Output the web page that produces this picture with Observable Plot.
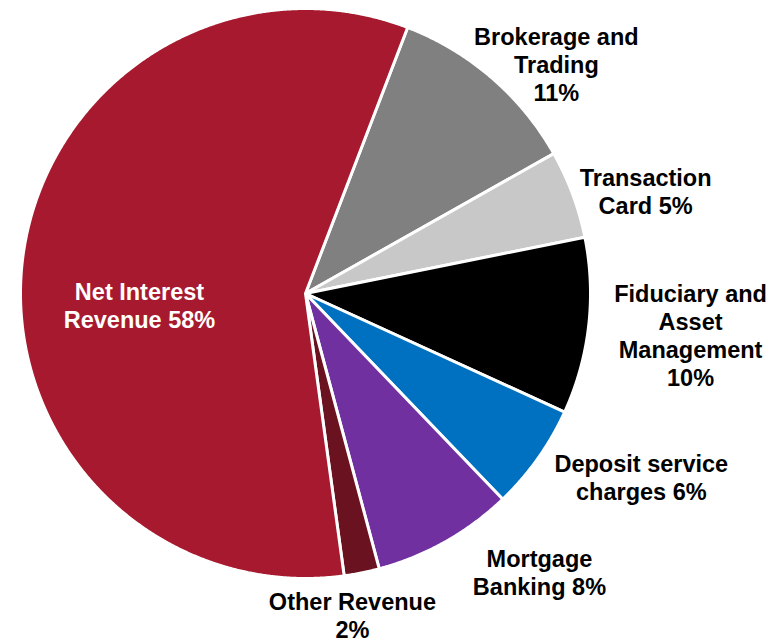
<!DOCTYPE html>
<html>
<head>
<meta charset="utf-8">
<script src="https://cdn.jsdelivr.net/npm/d3@7"></script>
<script src="https://cdn.jsdelivr.net/npm/@observablehq/plot@0.6"></script>
<style>
  html, body { margin: 0; padding: 0; background: #fff; }
  #chart { width: 784px; height: 643px; }
</style>
</head>
<body>
<div id="chart"></div>
<script>
// ---- data ----
const categories = ["Brokerage and Trading", "Transaction Card", "Fiduciary and Asset Management", "Deposit service charges", "Mortgage Banking", "Other Revenue", "Net Interest Revenue"];
const values = [11, 5, 10, 6, 8, 2, 58];
const labels = ["Brokerage and\nTrading\n11%", "Transaction\nCard 5%", "Fiduciary and\nAsset\nManagement\n10%", "Deposit service\ncharges 6%", "Mortgage\nBanking 8%", "Other Revenue\n2%", "Net Interest\nRevenue 58%"];

// ---- style ----
const colors = ["#808080", "#C8C8C8", "#000000", "#0070C0", "#7030A0", "#6A1220", "#A6192E"];
const startAngleDeg = 21;
const labelAngleDeg = [47.6, 73.3, 96.2, 118.6, 140.0, 171.7, 265.9];
const labelRadius = [1.192, 1.246, 1.359, 1.342, 1.277, 1.141, 0.584];
const insideLabel = [false, false, false, false, false, false, true];

// ---- build slices ----
const total = d3.sum(values);
const rad = Math.PI / 180;
const pts = [];
let acc = startAngleDeg;
categories.forEach((name, i) => {
  const span = values[i] / total * 360;
  const a0 = acc, a1 = acc + span;
  pts.push({name, x: 0, y: 0});
  const n = Math.max(2, Math.ceil(span / 0.25));
  for (let k = 0; k <= n; k++) {
    const a = (a0 + (a1 - a0) * k / n) * rad;
    pts.push({name, x: Math.sin(a), y: Math.cos(a)});
  }
  acc = a1;
});

const labelData = categories.map((name, i) => ({
  name,
  text: labels[i],
  inside: insideLabel[i],
  x: labelRadius[i] * Math.sin(labelAngleDeg[i] * rad),
  y: labelRadius[i] * Math.cos(labelAngleDeg[i] * rad)
}));

const font = "'Liberation Sans', Arial, Helvetica, sans-serif";
const textOpts = {x: "x", y: "y", text: "text", fontSize: 23.5, fontWeight: "bold", lineHeight: 1.19, lineAnchor: "middle", textAnchor: "middle"};

const chart = Plot.plot({
  width: 784,
  height: 643,
  marginLeft: 20,
  marginRight: 194,
  marginTop: 8,
  marginBottom: 65,
  x: {domain: [-1, 1], axis: null},
  y: {domain: [-1, 1], axis: null},
  color: {domain: categories, range: colors},
  style: {fontFamily: font, background: "#fff", overflow: "visible"},
  marks: [
    Plot.line(pts, {x: "x", y: "y", z: "name", fill: "name", stroke: "#fff", strokeWidth: 3, curve: "linear-closed"}),
    Plot.text(labelData.filter(d => !d.inside), {...textOpts, fill: "#000"}),
    Plot.text(labelData.filter(d => d.inside), {...textOpts, fill: "#fff"})
  ]
});
document.getElementById("chart").appendChild(chart);
</script>
</body>
</html>
